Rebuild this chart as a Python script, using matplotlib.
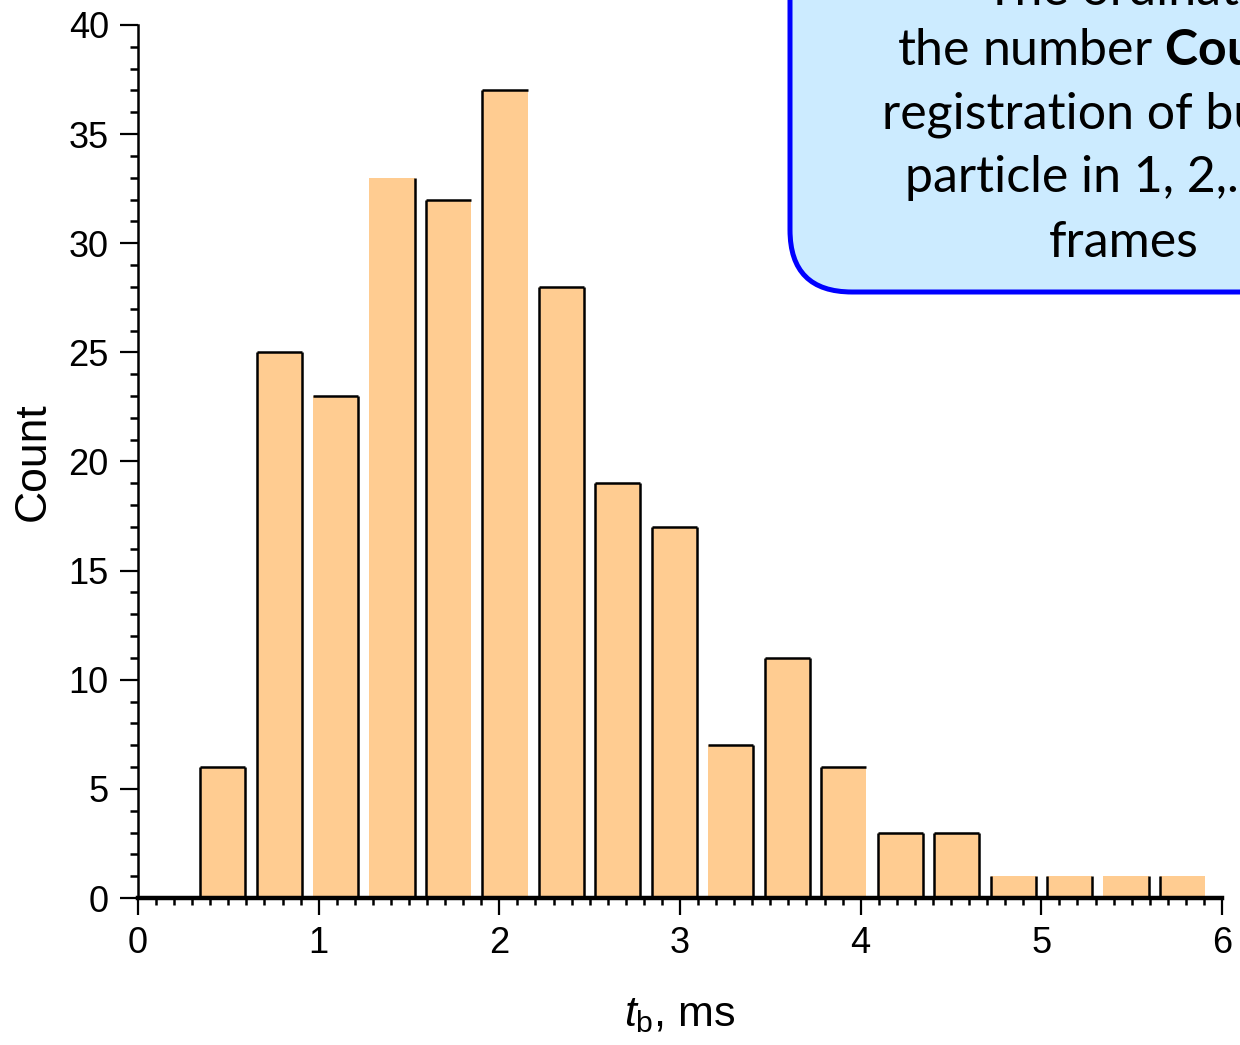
import matplotlib
matplotlib.use("Agg")
import matplotlib.pyplot as plt
from matplotlib.patches import FancyBboxPatch
from matplotlib.transforms import IdentityTransform
from matplotlib.ticker import MultipleLocator

# histogram of t_b: bin centres (ms) and counts
t_centers = [0.469, 0.781, 1.094, 1.406, 1.719, 2.031, 2.344, 2.656, 2.969,
             3.281, 3.594, 3.906, 4.219, 4.531, 4.844, 5.156, 5.469, 5.781]
counts = [6, 25, 23, 33, 32, 37, 28, 19, 17, 7, 11, 6, 3, 3, 1, 1, 1, 1]
bar_w = 0.25

# which outline sides show on each bar (left, top, right)
edge_left = [1, 1, 0, 0, 1, 1, 1, 1, 1, 0, 1, 1, 1, 1, 1, 1, 0, 1]
edge_top = [1, 1, 1, 0, 1, 1, 1, 1, 1, 1, 1, 1, 1, 1, 0, 0, 0, 0]
edge_right = [1, 1, 1, 1, 0, 0, 1, 1, 1, 1, 1, 0, 1, 1, 1, 1, 1, 0]

note_lines = ["The ordinate axis shows",
              "the number $\\mathbf{Count}$ of the",
              "registration of bubble-",
              "particle in 1, 2,..., N",
              "frames"]

plt.rcParams['font.family'] = ['Liberation Sans', 'DejaVu Sans']
plt.rcParams['mathtext.fontset'] = 'custom'
plt.rcParams['mathtext.it'] = 'Liberation Sans:italic'
plt.rcParams['mathtext.rm'] = 'Liberation Sans'
plt.rcParams['mathtext.bf'] = 'Lato:bold'

W, H = 1240, 1045
fig = plt.figure(figsize=(W / 100, H / 100), dpi=100)
ax = fig.add_axes([138 / W, 1 - 898 / H, (1222 - 138) / W, (898 - 25) / H])

ax.bar(t_centers, counts, width=bar_w, color='#FFCC91', linewidth=0, zorder=2)
for x, c, l, t, r in zip(t_centers, counts, edge_left, edge_top, edge_right):
    x0, x1 = x - bar_w / 2, x + bar_w / 2
    if l:
        ax.vlines(x0, 0, c, color='black', lw=1.8, zorder=3)
    if r:
        ax.vlines(x1, 0, c, color='black', lw=1.8, zorder=3)
    if t:
        ax.hlines(c, x0, x1, color='black', lw=1.8, zorder=3)

ax.set_xlim(0, 6)
ax.set_ylim(0, 40)
for s in ['top', 'right']:
    ax.spines[s].set_visible(False)
ax.spines['bottom'].set_linewidth(3.2)
ax.spines['left'].set_linewidth(1.8)
ax.spines['bottom'].set_zorder(4)

ax.xaxis.set_major_locator(MultipleLocator(1))
ax.xaxis.set_minor_locator(MultipleLocator(0.1))
ax.yaxis.set_major_locator(MultipleLocator(5))
ax.yaxis.set_minor_locator(MultipleLocator(1))
ax.tick_params(axis='x', which='major', direction='out', length=12, width=1.6,
               labelsize=26, pad=8)
ax.tick_params(axis='x', which='minor', direction='out', length=5, width=1.8)
ax.tick_params(axis='y', which='major', direction='out', length=13, width=1.6,
               labelsize=26, pad=8)
ax.tick_params(axis='y', which='minor', direction='out', length=6, width=1.8)

ax.set_ylabel('Count', fontsize=32)
ax.yaxis.set_label_coords(-0.078, 0.5)
ax.set_xlabel('$t_\\mathrm{b}$, ms', fontsize=31)
ax.xaxis.set_label_coords(0.5, -0.111)

# note box in the upper right corner, partly off the page
box = FancyBboxPatch((790, H - 292), 700, 500,
                     boxstyle="round,pad=0,rounding_size=62",
                     transform=IdentityTransform(), facecolor='#CCEBFF',
                     edgecolor='#0000FF', linewidth=3.6, zorder=10)
fig.add_artist(box)

line_x = [985, 897, 882, 905, 1124]
line_y = [5, 65, 128, 192, 257]
for i, (txt, x, y) in enumerate(zip(note_lines, line_x, line_y)):
    fig.text(x / W, 1 - y / H, txt, fontsize=36, family='Lato',
             ha='center' if i == 4 else 'left', va='baseline', zorder=11)

fig.savefig('out.png', dpi=100)
